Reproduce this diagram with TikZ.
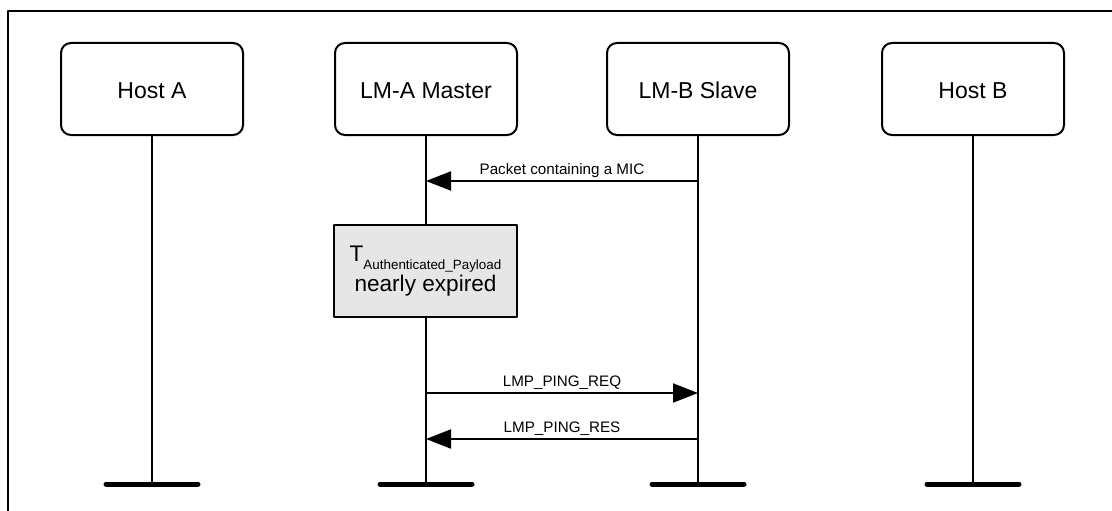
\documentclass[tikz,border=0pt]{standalone}
\usepackage{fontspec}
\setmainfont{Liberation Sans}
\usetikzlibrary{arrows.meta}
\definecolor{timergray}{RGB}{230,230,230}

\begin{document}
\begin{tikzpicture}[x=1pt, y=-1pt, line join=round, >={Triangle[length=25pt,width=19pt]},
	entity/.style={draw, line width=2pt, rounded corners=10pt, minimum width=182pt, minimum height=92pt, text height=20pt, text depth=0pt, font=\fontsize{23}{27}\selectfont},
	timerbox/.style={draw, line width=2pt, fill=timergray, minimum width=183pt, minimum height=92pt, align=center, font=\fontsize{22.6}{30}\selectfont},
	msg/.style={line width=2pt, ->},
	msglabel/.style={above, inner sep=2pt, font=\fontsize{15.2}{17}\selectfont}]
	\useasboundingbox (0,0) rectangle (1112,511);
	\draw[line width=2pt] (8,511) -- (8,11) -- (1112,11);
	% entities
	\node[entity] (hosta) at (152,89) {Host A};
	\node[entity] (lma) at (426,89) {LM-A Master};
	\node[entity] (lmb) at (698,89) {LM-B Slave};
	\node[entity] (hostb) at (973,89) {Host B};
	\coordinate (hosta end) at (152,484);
	\coordinate (lma end) at (426,484);
	\coordinate (lmb end) at (698,484);
	\coordinate (hostb end) at (973,484);
	% lifelines
	\foreach \e in {hosta, lma, lmb, hostb} {
		\draw[line width=2pt] (\e.south) -- (\e\space end);
		\draw[line width=5pt, line cap=round] ([xshift=-46pt]\e\space end) -- ([xshift=46pt]\e\space end);
	}
	% messages
	\coordinate (mic a) at (426,181);
	\coordinate (mic b) at (698,181);
	\draw[msg] (mic b) -- node[msglabel] {Packet containing a MIC} (mic a);
	\node[timerbox] (timer) at (425.5,271) {T{\fontsize{13.4}{15}\selectfont\raisebox{-8pt}{Authenticated\_Payload}}\\nearly expired};
	\coordinate (req a) at (426,393);
	\coordinate (req b) at (698,393);
	\draw[msg] (req a) -- node[msglabel] {LMP\_PING\_REQ} (req b);
	\coordinate (res a) at (426,439);
	\coordinate (res b) at (698,439);
	\draw[msg] (res b) -- node[msglabel] {LMP\_PING\_RES} (res a);
\end{tikzpicture}
\end{document}
